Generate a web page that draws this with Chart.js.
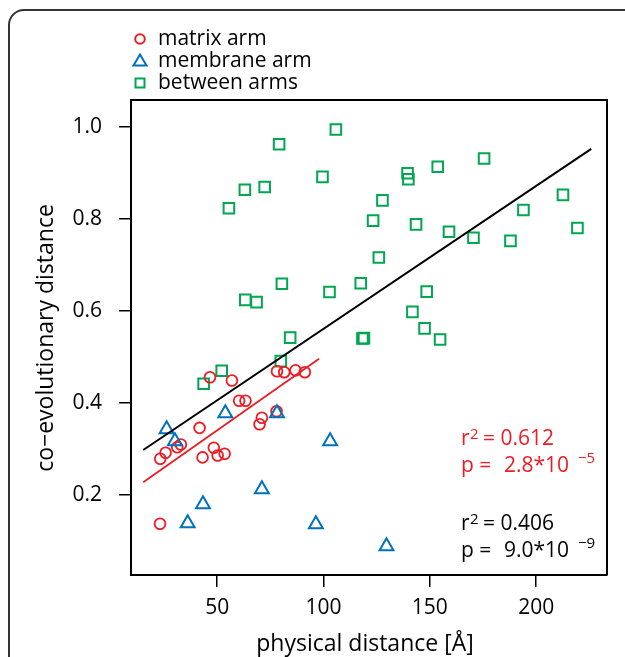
<!DOCTYPE html>
<html>
<head>
<meta charset="utf-8">
<script src="https://cdn.jsdelivr.net/npm/chart.js@4.4.1/dist/chart.umd.min.js"></script>
<style>
  html, body { margin: 0; padding: 0; background: #fff; }
  #wrap { width: 625px; height: 657px; position: relative; }
</style>
</head>
<body>
<div id="wrap"><canvas id="plot"></canvas></div>
<script>
// ---- data ----
const matrixX = [46.6, 56.9, 78.1, 81.5, 86.8, 91.2, 60.3, 63.3, 77.9, 71.0, 69.9, 41.7, 32.9, 31.2, 25.7, 23.2, 48.4, 50.2, 53.5, 43.1, 23.1];
const matrixY = [0.456, 0.449, 0.469, 0.467, 0.471, 0.467, 0.405, 0.405, 0.382, 0.368, 0.354, 0.346, 0.310, 0.304, 0.292, 0.279, 0.303, 0.286, 0.290, 0.282, 0.138];

const membraneX = [26.2, 30.1, 53.8, 78.1, 103.1, 71.0, 43.3, 36.1, 96.4, 129.6];
const membraneY = [0.343, 0.317, 0.378, 0.378, 0.317, 0.213, 0.180, 0.139, 0.137, 0.089];

const betweenX = [105.8, 79.1, 99.5, 72.3, 63.0, 55.5, 123.3, 126.0, 80.4, 117.5, 102.8, 63.2, 68.5, 84.3, 118.3, 119.0,
  175.5, 153.7, 139.5, 139.9, 127.7, 143.5, 159.0, 170.5, 187.9, 194.0, 212.6, 219.4, 148.5, 141.8, 147.5, 154.8, 79.9, 52.1, 43.6];
const betweenY = [0.994, 0.962, 0.891, 0.869, 0.863, 0.823, 0.796, 0.716, 0.659, 0.660, 0.641, 0.624, 0.619, 0.542, 0.540, 0.541,
  0.931, 0.913, 0.899, 0.886, 0.840, 0.788, 0.772, 0.759, 0.752, 0.819, 0.852, 0.780, 0.642, 0.598, 0.562, 0.538, 0.491, 0.470, 0.442];

// regression lines (end points)
const allFitX = [15.2, 225.9];
const allFitY = [0.298, 0.952];
const matrixFitX = [15.2, 97.9];
const matrixFitY = [0.228, 0.496];

const xTicks = [50, 100, 150, 200];
const yTicks = [0.2, 0.4, 0.6, 0.8, 1.0];

const RED = "#ed1c24";
const BLUE = "#0072bc";
const GREEN = "#00a651";
const FONT = "'Open Sans', 'DejaVu Sans', sans-serif";

function pts(xs, ys) {
  return xs.map((x, i) => ({ x: x, y: ys[i] }));
}

// ---- frame, box, legend, titles, stats ----
const decor = {
  id: "decor",
  afterDraw(chart) {
    const ctx = chart.ctx;
    const a = chart.chartArea;
    ctx.save();

    // outer figure frame (rounded top-left corner)
    ctx.strokeStyle = "#333";
    ctx.lineWidth = 2;
    ctx.beginPath();
    ctx.moveTo(9, 660);
    ctx.lineTo(9, 25);
    ctx.arcTo(9, 10, 24, 10, 15);
    ctx.lineTo(630, 10);
    ctx.stroke();

    // top and right of plot box
    ctx.strokeStyle = "#000";
    ctx.lineWidth = 2;
    ctx.beginPath();
    ctx.moveTo(a.left, a.top);
    ctx.lineTo(a.right, a.top);
    ctx.lineTo(a.right, a.bottom);
    ctx.stroke();

    // legend
    const legend = [
      { label: chart.data.datasets[0].label, color: RED, shape: "circle", y: 39 },
      { label: chart.data.datasets[1].label, color: BLUE, shape: "triangle", y: 61 },
      { label: chart.data.datasets[2].label, color: GREEN, shape: "rect", y: 83 }
    ];
    ctx.lineWidth = 2;
    legend.forEach(l => {
      ctx.strokeStyle = l.color;
      ctx.beginPath();
      if (l.shape === "circle") {
        ctx.arc(140, l.y, 4.8, 0, Math.PI * 2);
      } else if (l.shape === "triangle") {
        ctx.moveTo(140, l.y - 6.5);
        ctx.lineTo(146.5, l.y + 4.5);
        ctx.lineTo(133.5, l.y + 4.5);
        ctx.closePath();
      } else {
        ctx.rect(135.5, l.y - 4.5, 9, 9);
      }
      ctx.stroke();
      ctx.fillStyle = "#000";
      ctx.font = "21px " + FONT;
      ctx.textAlign = "left";
      ctx.textBaseline = "middle";
      ctx.fillText(l.label, 158, l.y);
    });

    // axis titles
    ctx.fillStyle = "#000";
    ctx.font = "23px " + FONT;
    ctx.textAlign = "center";
    ctx.textBaseline = "middle";
    ctx.fillText("physical distance [Å]", 365, 644);
    ctx.save();
    ctx.translate(46, 338);
    ctx.rotate(-Math.PI / 2);
    ctx.fillText("co\u2212evolutionary distance", 0, 0);
    ctx.restore();

    // statistics
    ctx.textAlign = "left";
    ctx.textBaseline = "alphabetic";
    function stats(color, base, r2, p, ex) {
      ctx.fillStyle = color;
      ctx.font = "21px " + FONT;
      ctx.fillText("r", 461, base);
      ctx.fillText("= " + r2, 483, base);
      ctx.fillText("p =", 461, base + 27);
      ctx.fillText(p + "*10", 504, base + 27);
      ctx.font = "15px " + FONT;
      ctx.fillText("2", 470, base - 6);
      ctx.fillText("\u2212" + ex, 578, base + 18);
    }
    stats(RED, 445, "0.612", "2.8", "5");
    stats("#000", 530, "0.406", "9.0", "9");

    ctx.restore();
  }
};

const ctx = document.getElementById("plot").getContext("2d");
new Chart(ctx, {
  type: "scatter",
  data: {
    datasets: [
      {
        label: "matrix arm",
        data: pts(matrixX, matrixY),
        pointStyle: "circle",
        pointRadius: 5.4,
        pointBorderWidth: 1.8,
        borderColor: RED,
        backgroundColor: "rgba(0,0,0,0)",
        order: 2
      },
      {
        label: "membrane arm",
        data: pts(membraneX, membraneY),
        pointStyle: "triangle",
        pointRadius: 8,
        pointBorderWidth: 2,
        borderColor: BLUE,
        backgroundColor: "rgba(0,0,0,0)",
        order: 1
      },
      {
        label: "between arms",
        data: pts(betweenX, betweenY),
        pointStyle: "rect",
        pointRadius: 7.5,
        pointBorderWidth: 2,
        borderColor: GREEN,
        backgroundColor: "rgba(0,0,0,0)",
        order: 3
      },
      {
        type: "line",
        label: "all fit",
        data: pts(allFitX, allFitY),
        borderColor: "#000",
        borderWidth: 2,
        pointRadius: 0,
        fill: false,
        order: 0
      },
      {
        type: "line",
        label: "matrix fit",
        data: pts(matrixFitX, matrixFitY),
        borderColor: RED,
        borderWidth: 1.8,
        pointRadius: 0,
        fill: false,
        order: 0
      }
    ]
  },
  options: {
    responsive: true,
    maintainAspectRatio: false,
    animation: false,
    layout: { padding: { top: 100, right: 18, left: 0, bottom: 0 } },
    plugins: {
      legend: { display: false },
      tooltip: { enabled: false }
    },
    scales: {
      x: {
        type: "linear",
        min: 9.45,
        max: 233.3,
        afterFit(scale) { scale.height = 82; },
        afterBuildTicks(scale) { scale.ticks = xTicks.map(v => ({ value: v })); },
        ticks: {
          color: "#000",
          font: { family: FONT, size: 21 },
          padding: 8,
          maxRotation: 0,
          autoSkip: false
        },
        grid: { drawOnChartArea: false, drawTicks: true, tickLength: 12, color: "#000", lineWidth: 1.5 },
        border: { display: true, color: "#000", width: 2 }
      },
      y: {
        type: "linear",
        min: 0.0266,
        max: 1.058,
        afterFit(scale) { scale.width = 131; },
        afterBuildTicks(scale) { scale.ticks = yTicks.map(v => ({ value: v })); },
        ticks: {
          color: "#000",
          font: { family: FONT, size: 21 },
          padding: 17,
          autoSkip: false,
          callback: v => v.toFixed(1)
        },
        grid: { drawOnChartArea: false, drawTicks: true, tickLength: 12, color: "#000", lineWidth: 1.5 },
        border: { display: true, color: "#000", width: 2 }
      }
    }
  },
  plugins: [decor]
});
</script>
</body>
</html>
